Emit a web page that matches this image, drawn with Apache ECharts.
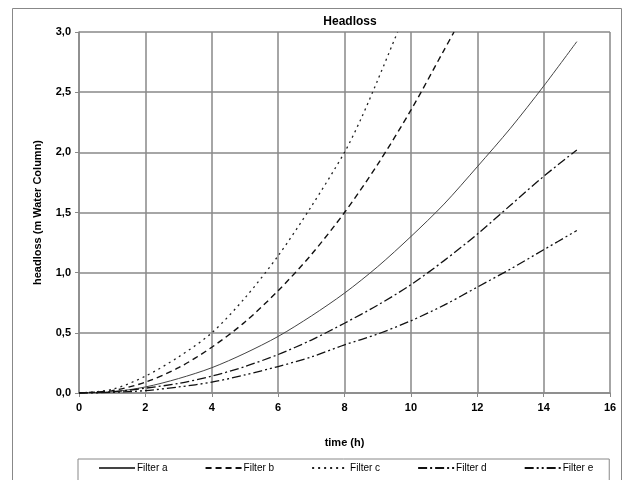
<!DOCTYPE html>
<html><head><meta charset="utf-8">
<script src="https://cdn.jsdelivr.net/npm/echarts@6/dist/echarts.min.js"></script>
<style>html,body{margin:0;padding:0;background:#fff}#c{width:624px;height:480px}</style>
</head><body><div id="c"></div>
<script>
const seriesNames = ['Filter a','Filter b','Filter c','Filter d','Filter e'];
const timeA = [0,1,2,3,4,5,6,7,8,9,10,11,12,13,14,15];
const filterA = [0,0.01,0.05,0.12,0.21,0.33,0.47,0.64,0.83,1.05,1.30,1.57,1.88,2.20,2.55,2.92];
const timeB = [0,1,2,3,4,5,6,7,8,9,10,11,11.3];
const filterB = [0,0.02,0.09,0.21,0.38,0.59,0.85,1.15,1.50,1.90,2.35,2.85,3.0];
const timeC = [0,1,2,3,4,5,6,7,8,8.5,9,9.6];
const filterC = [0,0.03,0.14,0.30,0.50,0.79,1.14,1.55,2.00,2.28,2.60,3.0];
const timeD = [0,1,2,3,4,5,6,7,8,9,10,11,12,13,14,15];
const filterD = [0,0.01,0.04,0.08,0.14,0.22,0.32,0.44,0.58,0.73,0.90,1.10,1.32,1.56,1.80,2.02];
const timeE = [0,1,2,3,4,5,6,7,8,9,10,11,12,13,14,15];
const filterE = [0,0.005,0.02,0.05,0.09,0.15,0.22,0.30,0.40,0.49,0.60,0.73,0.88,1.03,1.19,1.35];
const xTicks = [0,2,4,6,8,10,12,14,16];
const yTicks = [0,0.5,1,1.5,2,2.5,3];

const pairs = (xs, ys) => xs.map((x,i)=>[x, ys[i]]);
const styles = [
  {color:'#444', width:1, type:'solid'},
  {color:'#111', width:1.4, type:[6,4]},
  {color:'#222', width:1.3, type:[2,4]},
  {color:'#111', width:1.3, type:[9,3,2,3]},
  {color:'#111', width:1.3, type:[9,3,2,3,2,3]}
];
const datasets = [pairs(timeA,filterA),pairs(timeB,filterB),pairs(timeC,filterC),pairs(timeD,filterD),pairs(timeE,filterE)];

const chart = echarts.init(document.getElementById('c'), null, {renderer:'canvas'});
const font = 'Liberation Sans, Arial, sans-serif';
chart.setOption({
  animation:false,
  backgroundColor:'#fff',
  textStyle:{fontFamily:font},
  graphic:[{type:'rect', shape:{x:12.5,y:8.5,width:609,height:490}, style:{fill:'none',stroke:'#888',lineWidth:1}, silent:true, z:-1}],
  title:{text:'Headloss', left:345, textAlign:'center', top:11, textStyle:{fontSize:12,fontWeight:'bold',color:'#000',fontFamily:font}},
  grid:{left:79, right:14, top:32, bottom:87},
  legend:{
    data:seriesNames, left:78, top:459, width:534, itemGap:37, itemWidth:36, itemHeight:10,
    padding:[4,16,12,20], borderColor:'#888', borderWidth:1,
    itemStyle:{opacity:0, borderWidth:0},
    textStyle:{fontSize:10,color:'#000',fontFamily:font,padding:[0,0,0,-3]}
  },
  xAxis:{type:'value', min:0, max:16, interval:2,
    name:'time (h)', nameLocation:'middle', nameGap:44,
    nameTextStyle:{fontSize:11,fontWeight:'bold',color:'#000'},
    axisLine:{lineStyle:{color:'#888',width:1.5}},
    axisTick:{show:true,length:4,lineStyle:{color:'#888'}},
    axisLabel:{fontSize:11,fontWeight:'bold',color:'#000',margin:9, customValues:xTicks},
    splitLine:{lineStyle:{color:'#888',width:1.5}}
  },
  yAxis:{type:'value', min:0, max:3, interval:0.5,
    name:'headloss (m Water Column)', nameLocation:'middle', nameGap:36,
    nameTextStyle:{fontSize:11,fontWeight:'bold',color:'#000'},
    axisLine:{show:true,lineStyle:{color:'#888',width:1.5}},
    axisTick:{show:true,length:4,lineStyle:{color:'#888'}},
    axisLabel:{fontSize:11,fontWeight:'bold',color:'#000',margin:8, formatter:v=>v.toFixed(1).replace('.',',')},
    splitLine:{lineStyle:{color:'#888',width:1.5}}
  },
  series: seriesNames.map((n,i)=>({
    name:n, type:'line', data:datasets[i], smooth:0.3, symbol:'none', showSymbol:false,
    lineStyle:{color:styles[i].color,width:styles[i].width,type:styles[i].type},
    itemStyle:{color:styles[i].color}, clip:true
  }))
});
</script></body></html>
